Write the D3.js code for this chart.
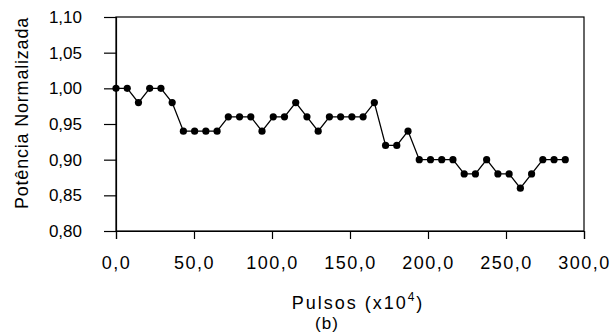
<!DOCTYPE html>
<html>
<head>
<meta charset="utf-8">
<script src="https://cdn.jsdelivr.net/npm/d3@7"></script>
<style>
  html, body { margin: 0; padding: 0; background: #fff; }
  svg { display: block; font-family: "Liberation Sans", Arial, sans-serif; }
</style>
</head>
<body>
<svg id="chart" width="614" height="333"></svg>
<script>
// Pulse count (x10^4) for each measurement
const pulses = d3.range(41).map(i => +(i * 7.2).toFixed(1));
// Normalised power at each measurement
const power = [
  1.00, 1.00, 0.98, 1.00, 1.00, 0.98, 0.94, 0.94, 0.94, 0.94,
  0.96, 0.96, 0.96, 0.94, 0.96, 0.96, 0.98, 0.96, 0.94, 0.96,
  0.96, 0.96, 0.96, 0.98, 0.92, 0.92, 0.94, 0.90, 0.90, 0.90,
  0.90, 0.88, 0.88, 0.90, 0.88, 0.88, 0.86, 0.88, 0.90, 0.90,
  0.90
];
const xTicks = [0, 50, 100, 150, 200, 250, 300];
const yTicks = [0.80, 0.85, 0.90, 0.95, 1.00, 1.05, 1.10];

const svg = d3.select("#chart");
const plotL = 116, plotR = 584, plotT = 17, plotB = 231;

const x = d3.scaleLinear().domain([0, 300]).range([plotL, plotR]);
const y = d3.scaleLinear().domain([0.80, 1.10]).range([plotB, plotT]);

// Frame
svg.append("rect")
  .attr("x", plotL).attr("y", plotT)
  .attr("width", plotR - plotL).attr("height", plotB - plotT)
  .attr("fill", "none").attr("stroke", "#000").attr("stroke-width", 1.2);

// Y axis
const yAxis = svg.append("g")
  .attr("transform", `translate(${plotL},0)`)
  .call(d3.axisLeft(y).tickValues(yTicks).tickSize(12).tickPadding(22)
    .tickFormat(d => d.toFixed(2).replace(".", ",")));
yAxis.select(".domain").attr("stroke-width", 1.2);
yAxis.selectAll(".tick line").attr("stroke-width", 1.2);
yAxis.selectAll(".tick text").attr("font-size", 17).attr("fill", "#000")
  .attr("font-family", "Liberation Sans, Arial, sans-serif");

// X axis
const xAxis = svg.append("g")
  .attr("transform", `translate(0,${plotB})`)
  .call(d3.axisBottom(x).tickValues(xTicks).tickSize(8).tickPadding(17)
    .tickFormat(d => d.toFixed(1).replace(".", ",")));
xAxis.select(".domain").attr("stroke-width", 1.2);
xAxis.selectAll(".tick line").attr("stroke-width", 1.2);
xAxis.selectAll(".tick text").attr("font-size", 18).attr("fill", "#000")
  .attr("letter-spacing", "1.5px")
  .attr("font-family", "Liberation Sans, Arial, sans-serif");

// Series line and markers
const pts = pulses.map((p, i) => [p, power[i]]);
svg.append("path")
  .datum(pts)
  .attr("fill", "none").attr("stroke", "#000").attr("stroke-width", 1.3)
  .attr("d", d3.line().x(d => x(d[0])).y(d => y(d[1])));
svg.append("g").selectAll("circle")
  .data(pts).join("circle")
  .attr("cx", d => x(d[0])).attr("cy", d => y(d[1]))
  .attr("r", 3.6).attr("fill", "#000");

// Axis titles
svg.append("text")
  .attr("transform", "translate(28,113) rotate(-90)")
  .attr("text-anchor", "middle")
  .attr("font-size", 18).attr("letter-spacing", "0.8px")
  .text("Potência Normalizada");

const xt = svg.append("text")
  .attr("x", 358).attr("y", 309)
  .attr("text-anchor", "middle")
  .attr("font-size", 18).attr("letter-spacing", "2px");
xt.append("tspan").text("Pulsos (x10");
xt.append("tspan").attr("font-size", 12).attr("dy", -8).text("4");
xt.append("tspan").attr("dy", 8).text(")");

svg.append("text")
  .attr("x", 327).attr("y", 329)
  .attr("text-anchor", "middle")
  .attr("font-size", 17).attr("letter-spacing", "1px")
  .text("(b)");
</script>
</body>
</html>
